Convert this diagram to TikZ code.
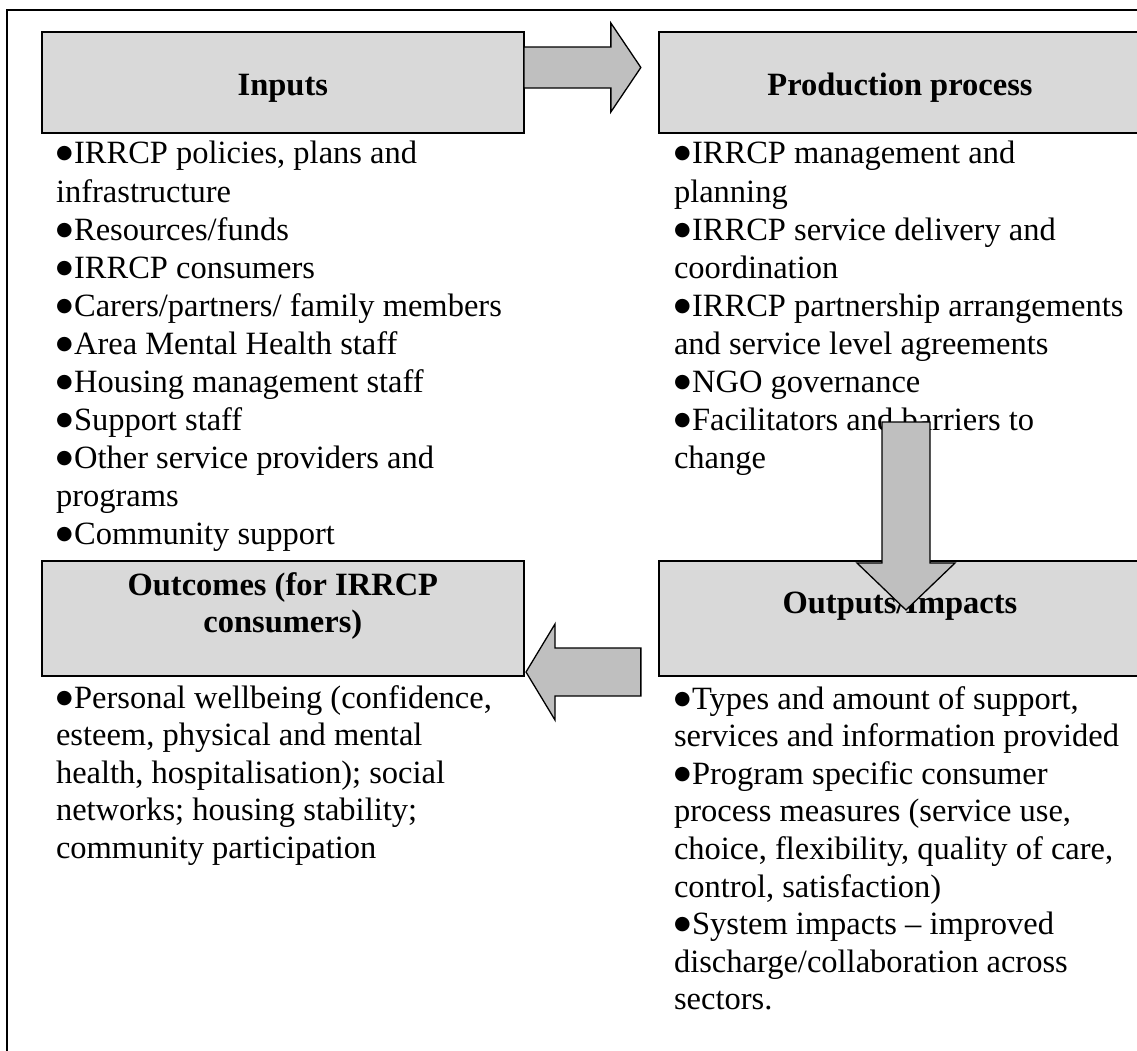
\documentclass[tikz,border=0pt]{standalone}
\usepackage{fontspec}
\setmainfont{Liberation Serif}
\newfontfamily\dejavu{DejaVu Sans}
\usetikzlibrary{calc}
\newcommand\bodyfont{\fontsize{32.5}{37.6}\selectfont}
\newcommand\topfont{\fontsize{32.5}{38.1}\selectfont}
\newcommand\bul{\raisebox{5pt}{\dejavu\fontsize{19}{19}\selectfont ●}\hspace{1.5pt}}
\begin{document}
\begin{tikzpicture}[x=1pt,y=-1pt,
  every node/.style={inner sep=0pt, outer sep=0pt},
  hbox/.style={draw=black, line width=2pt, fill=black!15, minimum width=482.3pt},
  head/.style={font=\bodyfont\bfseries},
  listtext/.style={font=\bodyfont, align=left, anchor=north west},
  toplist/.style={font=\topfont, align=left, anchor=north west},
  bigarrow/.style={draw=black, line width=1.3pt, fill=black!25, line join=miter}]
\useasboundingbox (0,0) rectangle (1137,1050);
\clip (0,0) rectangle (1137,1050);
% outer frame
\draw[line width=1.5pt] (7,1070) -- (7,10) -- (1160,10);
% boxes
\node[hbox, minimum height=101pt] (inputs) at (282.85,82.5) {};
\node[hbox, minimum height=101pt] (prod) at (900,82.5) {};
\node[hbox, minimum height=115pt] (outc) at (282.85,618.5) {};
\node[hbox, minimum height=115pt] (outp) at (900,618.5) {};
% headings
\node[head, anchor=base] (inputsT) at (282.85,95) {Inputs};
\node[head, anchor=base] (prodT) at (900,95) {Production process};
\node[head, anchor=north, align=center] (outcT) at (282.85,568.7) {\strut Outcomes (for IRRCP\\consumers)};
\node[head, anchor=base] (outpT) at (900,613) {Outputs/Impacts};
% lists
\node[toplist] (inputsL) at (56,137.3) {\strut \bul IRRCP policies, plans and\\
infrastructure\\
\bul Resources/funds\\
\bul IRRCP consumers\\
\bul Carers/partners/ family members\\
\bul Area Mental Health staff\\
\bul Housing management staff\\
\bul Support staff\\
\bul Other service providers and\\
programs\\
\bul Community support};
\node[toplist] (prodL) at (674,137.3) {\strut \bul IRRCP management and\\
planning\\
\bul IRRCP service delivery and\\
coordination\\
\bul IRRCP partnership arrangements\\
and service level agreements\\
\bul NGO governance\\
\bul Facilitators and barriers to\\
change};
\node[listtext] (outcL) at (56,681.7) {\strut \bul Personal wellbeing (confidence,\\
esteem, physical and mental\\
health, hospitalisation); social\\
networks; housing stability;\\
community participation};
\node[listtext] (outpL) at (674,682.7) {\strut \bul Types and amount of support,\\
services and information provided\\
\bul Program specific consumer\\
process measures (service use,\\
choice, flexibility, quality of care,\\
control, satisfaction)\\
\bul System impacts – improved\\
discharge/collaboration across\\
sectors.};
% right arrow: Inputs -> Production process
\coordinate (raS) at ($(inputs.east)+(0,-15)$);
\coordinate (raT) at ($(prod.west)+(-18,-15)$);
\draw[bigarrow] ($(raS)+(0,-20.5)$) -- ($(raT)+(-30,-20.5)$) -- ($(raT)+(-30,-44.5)$)
  -- (raT) -- ($(raT)+(-30,44.5)$) -- ($(raT)+(-30,20.5)$) -- ($(raS)+(0,20.5)$) -- cycle;
% left arrow: Outputs/Impacts -> Outcomes
\coordinate (laT) at ($(outc.east)+(2,53.5)$);
\coordinate (laS) at ($(outp.west)+(-18,53.5)$);
\draw[bigarrow] (laT) -- ($(laT)+(29,-48)$) -- ($(laT)+(29,-24)$) -- ($(laS)+(0,-24)$)
  -- ($(laS)+(0,24)$) -- ($(laT)+(29,24)$) -- ($(laT)+(29,48)$) -- cycle;
% down arrow: Production process -> Outputs/Impacts
\coordinate (daS) at (906,422);
\coordinate (daT) at ($(outp.north)+(6,49)$);
\draw[bigarrow] ($(daS)+(-24,0)$) -- ($(daS)+(24,0)$) -- ($(daT)+(24,-47)$) -- ($(daT)+(49,-47)$)
  -- (daT) -- ($(daT)+(-49,-47)$) -- ($(daT)+(-24,-47)$) -- cycle;
\end{tikzpicture}
\end{document}
